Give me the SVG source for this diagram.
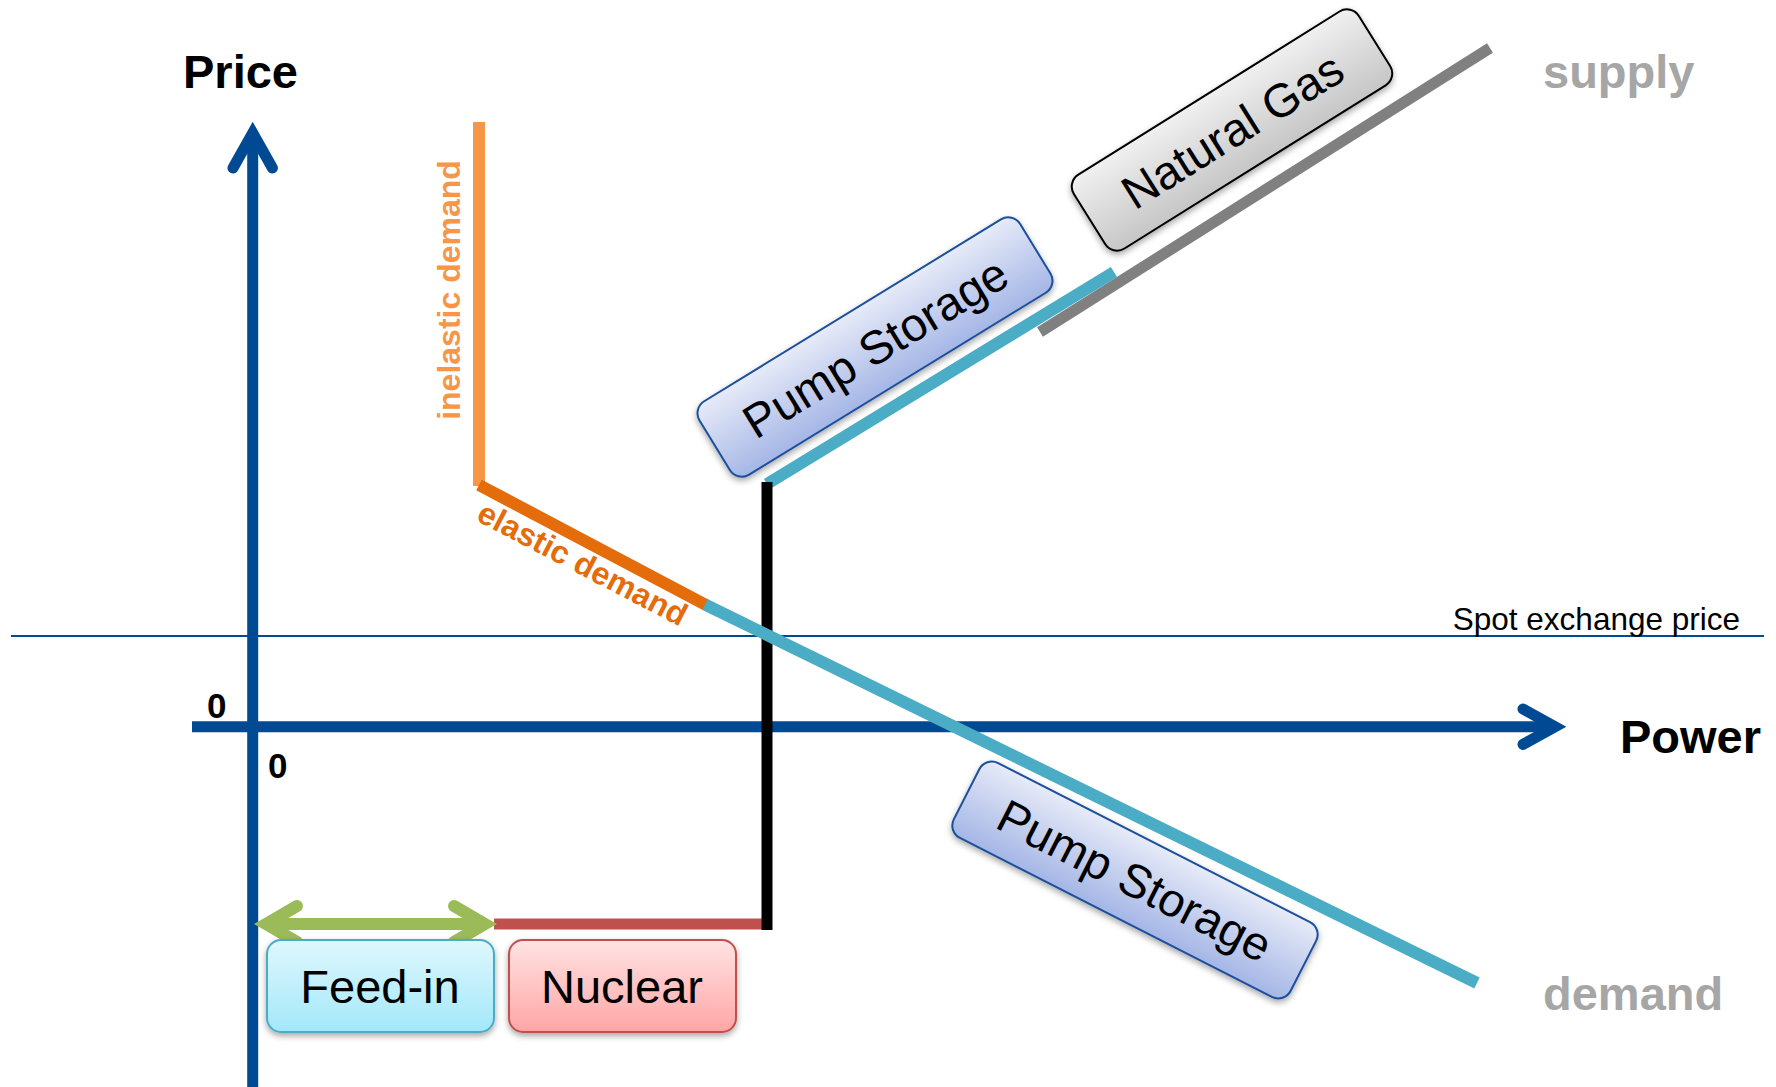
<svg xmlns="http://www.w3.org/2000/svg" width="1776" height="1087" viewBox="0 0 1776 1087">
<defs>
<style>
.lbl{font-family:"Liberation Sans",Arial,sans-serif;}
.big{font-size:47px;font-weight:bold;}
.box{font-size:47px;fill:#000;}
.ax{fill:none;stroke:#004A94;stroke-width:11;}
.head{fill:none;stroke-linecap:round;stroke-linejoin:miter;stroke-miterlimit:10;}
</style>
<linearGradient id="gPump" x1="0" y1="0" x2="0" y2="1"><stop offset="0" stop-color="#E7EBF8"/><stop offset="1" stop-color="#A5B6E6"/></linearGradient>
<linearGradient id="gGas" x1="0" y1="0" x2="0" y2="1"><stop offset="0" stop-color="#F0F0F0"/><stop offset="1" stop-color="#C6C6C6"/></linearGradient>
<linearGradient id="gFeed" x1="0" y1="0" x2="0" y2="1"><stop offset="0" stop-color="#DFF7FD"/><stop offset="1" stop-color="#A3E8FA"/></linearGradient>
<linearGradient id="gNuc" x1="0" y1="0" x2="0" y2="1"><stop offset="0" stop-color="#FFE3E3"/><stop offset="1" stop-color="#FFA5A5"/></linearGradient>
<filter id="sh" x="-10%" y="-20%" width="120%" height="150%"><feDropShadow dx="0" dy="3" stdDeviation="3" flood-color="#000" flood-opacity="0.35"/></filter>
</defs>
<rect width="1776" height="1087" fill="#fff"/>

<g id="connectors">
  <line x1="11" y1="636" x2="1764" y2="636" stroke="#004A94" stroke-width="2"/>
  <line class="ax" x1="252.7" y1="1087" x2="252.7" y2="135"/>
  <polyline class="ax head" points="233,168 252.7,133 272.4,168"/>
  <line class="ax" x1="192" y1="726.7" x2="1556" y2="726.7"/>
  <polyline class="ax head" points="1523,709 1555,726.7 1523,744.4"/>
  <line x1="479" y1="122" x2="479" y2="486" stroke="#F79646" stroke-width="12"/>
  <line x1="479" y1="485" x2="706" y2="605" stroke="#E46C0A" stroke-width="12"/>
  <line x1="1040" y1="332" x2="1490" y2="48" stroke="#808080" stroke-width="11"/>
  <line x1="767" y1="484" x2="1114" y2="272" stroke="#4BACC6" stroke-width="12"/>
  <line x1="494" y1="924" x2="767" y2="924" stroke="#C0504D" stroke-width="11"/>
  <line x1="767" y1="482" x2="767" y2="930" stroke="#000" stroke-width="11"/>
  <line x1="705" y1="604.5" x2="1477" y2="983" stroke="#4BACC6" stroke-width="12"/>
  <line x1="266" y1="924" x2="484" y2="924" stroke="#9BBB59" stroke-width="12"/>
  <polyline class="head" stroke="#9BBB59" stroke-width="12" points="297,906 266,924 297,942"/>
  <polyline class="head" stroke="#9BBB59" stroke-width="12" points="454,906 485,924 454,942"/>
</g>

<g id="labels" class="lbl">
  <text class="big" x="183" y="88" fill="#000">Price</text>
  <text class="big" x="1620" y="753" fill="#000">Power</text>
  <text class="big" x="1543" y="88" fill="#A6A6A6">supply</text>
  <text class="big" x="1543" y="1010" fill="#A6A6A6">demand</text>
  <text x="207" y="718" font-size="35" font-weight="bold" fill="#000">0</text>
  <text x="268" y="778" font-size="35" font-weight="bold" fill="#000">0</text>
  <text x="1740" y="630" font-size="31.5" text-anchor="end" fill="#000">Spot exchange price</text>
  <text transform="translate(460,290) rotate(-90)" font-size="32" font-weight="bold" text-anchor="middle" fill="#F79646">inelastic demand</text>
  <text transform="translate(475,520) rotate(27.5)" font-size="32" font-weight="bold" fill="#E46C0A">elastic demand</text>
</g>

<g id="node-pump-storage-supply">
  <g filter="url(#sh)"><rect transform="translate(875,347) rotate(-31.5)" x="-188" y="-43" width="376" height="86" rx="14" fill="url(#gPump)" stroke="#1C4F9C" stroke-width="2"/></g>
  <text class="lbl box" transform="translate(875,347) rotate(-31.5)" x="0" y="17" text-anchor="middle">Pump Storage</text>
</g>

<g id="node-natural-gas">
  <g filter="url(#sh)"><rect transform="translate(1232,130) rotate(-32)" x="-168" y="-43.5" width="336" height="87" rx="14" fill="url(#gGas)" stroke="#000" stroke-width="2"/></g>
  <text class="lbl box" transform="translate(1232,130) rotate(-32)" x="0" y="17" text-anchor="middle">Natural Gas</text>
</g>

<g id="node-pump-storage-demand">
  <g filter="url(#sh)"><rect transform="translate(1135,880) rotate(27)" x="-189" y="-42" width="378" height="84" rx="14" fill="url(#gPump)" stroke="#1C4F9C" stroke-width="2"/></g>
  <text class="lbl box" transform="translate(1135,880) rotate(27)" x="0" y="17" text-anchor="middle">Pump Storage</text>
</g>

<g id="node-feed-in">
  <rect x="267" y="940" width="227" height="92" rx="14" fill="url(#gFeed)" stroke="#4BACC6" stroke-width="2" filter="url(#sh)"/>
  <text class="lbl box" x="380" y="1003" text-anchor="middle">Feed-in</text>
</g>

<g id="node-nuclear">
  <rect x="509" y="940" width="227" height="92" rx="14" fill="url(#gNuc)" stroke="#C0504D" stroke-width="2" filter="url(#sh)"/>
  <text class="lbl box" x="622" y="1003" text-anchor="middle">Nuclear</text>
</g>
</svg>
